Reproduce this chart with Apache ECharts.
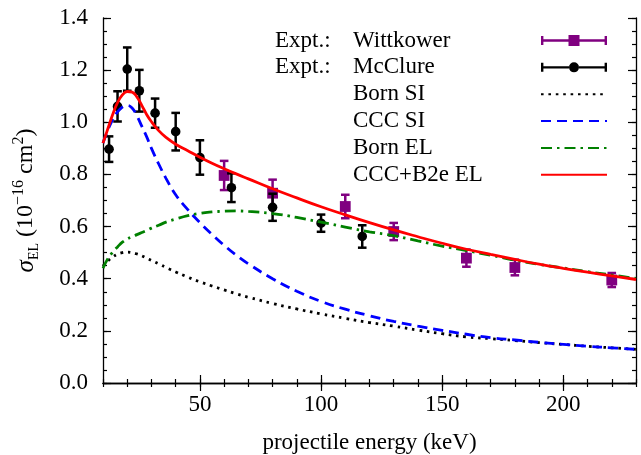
<!DOCTYPE html>
<html>
<head>
<meta charset="utf-8">
<script src="https://cdn.jsdelivr.net/npm/echarts@6/dist/echarts.min.js"></script>
<style>
  html, body { margin: 0; padding: 0; background: #fff; }
  #chart { width: 641px; height: 455px; }
</style>
</head>
<body>
<div id="chart"></div>
<script>
// Elastic cross sections (units of 1e-16 cm^2) versus projectile energy (keV)

// Experimental data: energy, cross section, error
const wittkowerEnergy = [60, 80, 110, 130, 160, 180, 220];
const wittkowerSigma  = [0.796, 0.728, 0.677, 0.581, 0.479, 0.443, 0.395];
const wittkowerError  = [0.056, 0.052, 0.045, 0.033, 0.033, 0.030, 0.027];

const mcclureEnergy = [12.5, 16, 20, 25, 31.5, 40, 50, 63, 80, 100, 117];
const mcclureSigma  = [0.897, 1.061, 1.204, 1.121, 1.035, 0.964, 0.865, 0.749, 0.674, 0.613, 0.562];
const mcclureError  = [0.049, 0.058, 0.083, 0.080, 0.056, 0.072, 0.066, 0.055, 0.052, 0.033, 0.043];

// Theory curves on a common energy grid
const curveEnergy = [10, 12, 14, 16, 18, 20, 22, 24, 26, 28, 30, 33, 36, 40, 45, 50, 55, 60, 65, 70,
                     80, 90, 100, 110, 120, 130, 140, 150, 160, 170, 180, 190, 200, 210, 220, 230];
const bornSI = [0.448, 0.468, 0.483, 0.494, 0.500, 0.502, 0.500, 0.495, 0.488, 0.479, 0.470, 0.457,
                0.443, 0.426, 0.406, 0.388, 0.372, 0.357, 0.342, 0.329, 0.305, 0.284, 0.265, 0.248,
                0.232, 0.218, 0.203, 0.189, 0.177, 0.170, 0.163, 0.155, 0.148, 0.141, 0.135, 0.129];
const cccSI  = [0.920, 0.970, 1.010, 1.040, 1.058, 1.065, 1.055, 1.025, 0.985, 0.945, 0.900, 0.840,
                0.785, 0.722, 0.665, 0.615, 0.570, 0.528, 0.490, 0.457, 0.400, 0.352, 0.313, 0.283,
                0.258, 0.236, 0.218, 0.202, 0.187, 0.174, 0.165, 0.156, 0.148, 0.141, 0.135, 0.129];
const bornEL = [0.440, 0.477, 0.502, 0.522, 0.540, 0.552, 0.561, 0.569, 0.577, 0.585, 0.594, 0.605,
                0.617, 0.629, 0.642, 0.651, 0.656, 0.659, 0.660, 0.658, 0.650, 0.635, 0.617, 0.598,
                0.580, 0.565, 0.545, 0.525, 0.508, 0.490, 0.471, 0.455, 0.441, 0.427, 0.414, 0.401];
const cccB2eEL = [0.920, 0.975, 1.030, 1.075, 1.105, 1.118, 1.116, 1.097, 1.065, 1.030, 1.002, 0.968,
                  0.942, 0.916, 0.891, 0.866, 0.843, 0.822, 0.802, 0.783, 0.745, 0.710, 0.676, 0.645,
                  0.615, 0.587, 0.561, 0.536, 0.513, 0.493, 0.474, 0.456, 0.440, 0.425, 0.411, 0.397];

// Axis ticks
const xMajorTicks = [50, 100, 150, 200];

const FONT = 'Liberation Serif';
const PURPLE = '#800080';
const NO_FILL = 'rgba(0,0,0,0)';

const zip3 = (a, b, c) => a.map((v, i) => [v, b[i], c[i]]);
const zip2 = (a, b) => a.map((v, i) => [v, b[i]]);

function errorBarItem(marker, color) {
  return function (params, api) {
    const x = api.value(0), y = api.value(1), e = api.value(2);
    const top = api.coord([x, y + e]);
    const bot = api.coord([x, y - e]);
    const mid = api.coord([x, y]);
    const cap = 4.3;
    const st = { stroke: color, lineWidth: 2.5, fill: null };
    const children = [
      { type: 'line', shape: { x1: mid[0], y1: top[1], x2: mid[0], y2: bot[1] }, style: st },
      { type: 'line', shape: { x1: mid[0] - cap, y1: top[1], x2: mid[0] + cap, y2: top[1] }, style: st },
      { type: 'line', shape: { x1: mid[0] - cap, y1: bot[1], x2: mid[0] + cap, y2: bot[1] }, style: st }
    ];
    if (marker === 'circle') {
      children.push({ type: 'circle', shape: { cx: mid[0], cy: mid[1], r: 4.8 }, style: { fill: color } });
    } else {
      children.push({ type: 'rect', shape: { x: mid[0] - 5.4, y: mid[1] - 5.4, width: 10.8, height: 10.8 }, style: { fill: color } });
    }
    return { type: 'group', children };
  };
}

const squareBarIcon = 'path://M0,4.3H27.5V6.7H0Z M38.5,4.3H66V6.7H38.5Z M0,1H2.4V10H0Z M63.6,1H66V10H63.6Z M27.5,0H38.5V11H27.5Z';
const circleBarIcon = 'path://M0,4.3H28V6.7H0Z M38,4.3H66V6.7H38Z M0,1H2.4V10H0Z M63.6,1H66V10H63.6Z M38,5.5A5,5 0 1,1 28,5.5A5,5 0 1,1 38,5.5Z';

const baseAxisLine = { show: true, lineStyle: { color: '#000', width: 1.3 } };
const tickStyle = { color: '#000', width: 1.2 };

function xAx(position, major, withLabels) {
  const ax = {
    type: 'value', position, min: 10, max: 230, interval: 10,
    axisLine: major ? { show: false } : baseAxisLine,
    axisTick: { show: true, inside: true, length: major ? 8 : 4, lineStyle: tickStyle },
    axisLabel: { show: false },
    splitLine: { show: false }
  };
  if (major) ax.axisTick.customValues = xMajorTicks;
  if (withLabels) {
    ax.axisLabel = { show: true, customValues: xMajorTicks, fontFamily: FONT, fontSize: 23, color: '#000', margin: 10 };
    ax.name = 'projectile energy (keV)';
    ax.nameLocation = 'middle';
    ax.nameGap = 48;
    ax.nameTextStyle = { fontFamily: FONT, fontSize: 23, color: '#000' };
  }
  return ax;
}

function yAx(position, minor, withLabels) {
  const ax = {
    type: 'value', position, min: 0, max: 1.4, interval: minor ? 0.05 : 0.2,
    axisLine: minor ? { show: false } : baseAxisLine,
    axisTick: { show: true, inside: true, length: minor ? 4 : 8, lineStyle: tickStyle },
    axisLabel: { show: false },
    splitLine: { show: false }
  };
  if (withLabels) {
    ax.axisLabel = { show: true, fontFamily: FONT, fontSize: 23, color: '#000', margin: 15,
                     formatter: v => v.toFixed(1) };
    ax.name = '{i|σ}{sub|EL}{n| (10}{sup|−16}{n| cm}{sup|2}{n|)}';
    ax.nameLocation = 'middle';
    ax.nameGap = 62;
    ax.nameTextStyle = {
      fontFamily: FONT, fontSize: 23, color: '#000',
      rich: {
        n: { fontFamily: FONT, fontSize: 24, lineHeight: 30, verticalAlign: 'middle' },
        i: { fontFamily: FONT, fontSize: 25, fontStyle: 'italic', lineHeight: 30, verticalAlign: 'middle' },
        sub: { fontFamily: FONT, fontSize: 14, lineHeight: 21, verticalAlign: 'bottom' },
        sup: { fontFamily: FONT, fontSize: 16, lineHeight: 17, verticalAlign: 'top' }
      }
    };
  }
  return ax;
}

function curve(name, values, color, type) {
  return {
    name, type: 'line', symbol: 'none', smooth: 0.45, z: 3,
    // transparent item colour keeps the legend entry a plain line sample
    itemStyle: { color: NO_FILL, borderWidth: 0 },
    lineStyle: { color, width: 2.8, type },
    data: zip2(curveEnergy, values)
  };
}

const option = {
  animation: false,
  backgroundColor: '#fff',
  grid: { left: 103, top: 18, width: 533, height: 365, containLabel: false, outerBoundsMode: 'none' },
  xAxis: [xAx('bottom', false, true), xAx('bottom', true, false), xAx('top', false, false), xAx('top', true, false)],
  yAxis: [yAx('left', false, true), yAx('left', true, false), yAx('right', false, false), yAx('right', true, false)],
  legend: {
    orient: 'vertical', left: 275, top: 29, padding: 0, itemGap: 3.85,
    itemWidth: 66, itemHeight: 11, align: 'right', selectedMode: false,
    data: [
      { name: 'Expt.: Wittkower', icon: squareBarIcon },
      { name: 'Expt.: McClure', icon: circleBarIcon },
      'Born SI', 'CCC SI', 'Born EL', 'CCC+B2e EL'
    ],
    formatter: function (name) {
      const m = name.match(/^(Expt\.:) (.*)$/);
      return m ? '{p|' + m[1] + '}{t|' + m[2] + '}' : '{p|}{t|' + name + '}';
    },
    textStyle: {
      fontFamily: FONT, fontSize: 23, color: '#000',
      rich: {
        p: { fontFamily: FONT, fontSize: 23, width: 78, lineHeight: 20, align: 'left' },
        t: { fontFamily: FONT, fontSize: 23, width: 183, lineHeight: 20, align: 'left' }
      }
    }
  },
  series: [
    {
      name: 'Expt.: Wittkower', type: 'custom', xAxisIndex: 0, yAxisIndex: 0,
      itemStyle: { color: PURPLE },
      renderItem: errorBarItem('square', PURPLE),
      encode: { x: 0, y: 1 },
      data: zip3(wittkowerEnergy, wittkowerSigma, wittkowerError), z: 2
    },
    {
      name: 'Expt.: McClure', type: 'custom', xAxisIndex: 0, yAxisIndex: 0,
      itemStyle: { color: '#000' },
      renderItem: errorBarItem('circle', '#000'),
      encode: { x: 0, y: 1 },
      data: zip3(mcclureEnergy, mcclureSigma, mcclureError), z: 2
    },
    curve('Born SI', bornSI, '#000', [2.6, 4.8]),
    curve('CCC SI', cccSI, '#0000ff', [10, 6]),
    curve('Born EL', bornEL, '#008000', [11, 5, 2.5, 5]),
    curve('CCC+B2e EL', cccB2eEL, '#ff0000', 'solid')
  ]
};

echarts.init(document.getElementById('chart'), null, { renderer: 'canvas' }).setOption(option);
</script>
</body>
</html>
